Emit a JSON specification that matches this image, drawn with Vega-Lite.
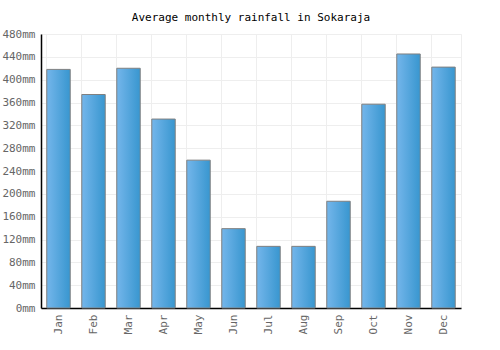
{
  "$schema": "https://vega.github.io/schema/vega-lite/v6.json",
  "width": 420,
  "height": 274,
  "autosize": {"type": "none"},
  "padding": {"left": 41, "top": 34, "right": 39, "bottom": 42},
  "background": "#ffffff",
  "title": {
    "text": "Average monthly rainfall in Sokaraja",
    "font": "DejaVu Sans Mono",
    "fontSize": 11,
    "fontWeight": "normal",
    "color": "#000000",
    "anchor": "middle",
    "offset": 12,
    "dy": 7
  },
  "config": {
    "view": {"stroke": "#eeeeee"},
    "axis": {
      "labelFont": "DejaVu Sans Mono",
      "labelFontSize": 11,
      "labelColor": "#666666",
      "gridColor": "#eeeeee",
      "domainColor": "#000000",
      "ticks": false
    }
  },
  "data": {
    "values": [
      {"month": "Jan", "rain": 418},
      {"month": "Feb", "rain": 374},
      {"month": "Mar", "rain": 420},
      {"month": "Apr", "rain": 331},
      {"month": "May", "rain": 259},
      {"month": "Jun", "rain": 139},
      {"month": "Jul", "rain": 108},
      {"month": "Aug", "rain": 108},
      {"month": "Sep", "rain": 187},
      {"month": "Oct", "rain": 357},
      {"month": "Nov", "rain": 445},
      {"month": "Dec", "rain": 422}
    ]
  },
  "mark": {
    "type": "bar",
    "stroke": "#808080",
    "strokeWidth": 1,
    "color": {
      "gradient": "linear",
      "x1": 0, "x2": 1, "y1": 0, "y2": 0,
      "stops": [
        {"offset": 0, "color": "#74b6eb"},
        {"offset": 1, "color": "#3896cf"}
      ]
    }
  },
  "encoding": {
    "x": {
      "field": "month",
      "type": "nominal",
      "sort": null,
      "title": null,
      "scale": {"paddingInner": 0.33, "paddingOuter": 0.165},
      "axis": {
        "labelAngle": -90,
        "labelAlign": "right",
        "labelBaseline": "middle",
        "labelPadding": 6,
        "grid": true,
        "bandPosition": 0,
        "domainWidth": 1.5
      }
    },
    "y": {
      "field": "rain",
      "type": "quantitative",
      "title": null,
      "scale": {"domain": [0, 480], "nice": false},
      "axis": {
        "values": [0, 40, 80, 120, 160, 200, 240, 280, 320, 360, 400, 440, 480],
        "labelExpr": "datum.value + 'mm'",
        "labelPadding": 6,
        "domainWidth": 1.5
      }
    }
  }
}
